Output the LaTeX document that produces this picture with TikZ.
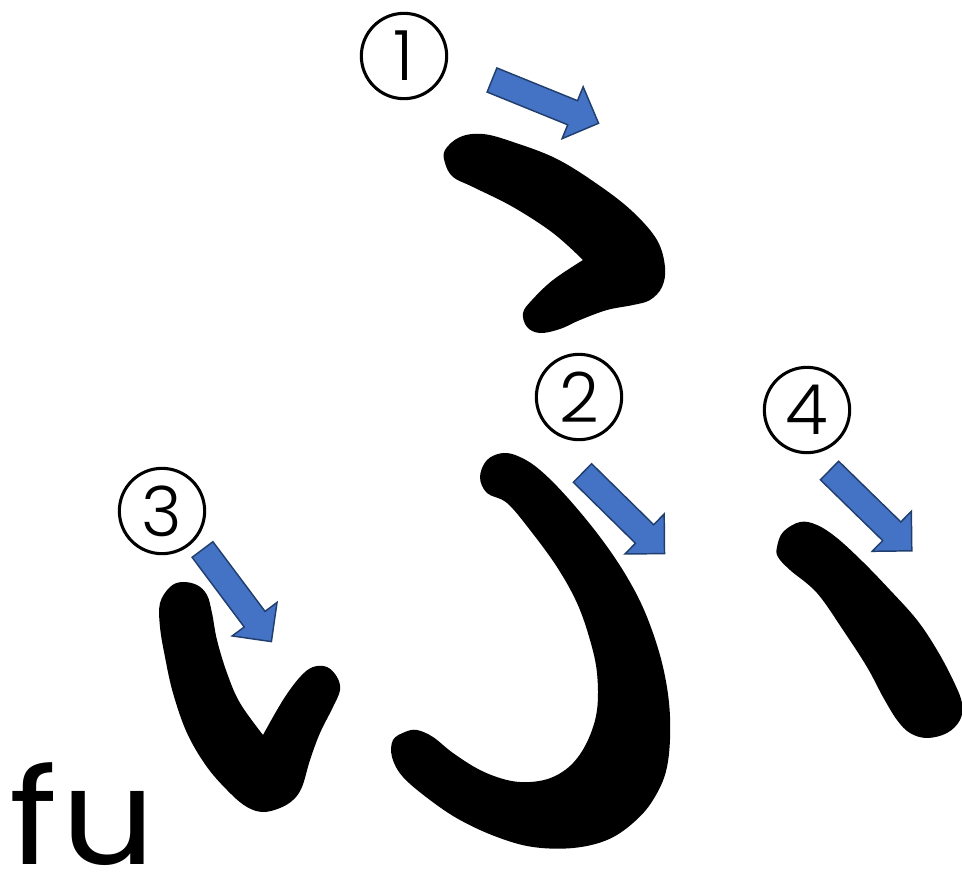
\documentclass[tikz,border=0pt]{standalone}
\usepackage{fontspec}
\setmainfont{Open Sans}
\newfontfamily\lightfont{Poppins Light}
\newfontfamily\romajifont{Poppins}[FakeStretch=1.1]
\begin{document}
\begin{tikzpicture}[x=0.75pt,y=-0.75pt,
  stroke/.style={fill=black},
  arrowbody/.style={fill=arrowfill,draw=arrowline,line width=1.1pt,line join=miter},
  circ/.style={circle,draw=black,line width=2.3pt,minimum size=64pt,inner sep=0pt,font=\lightfont\fontsize{52}{52}\selectfont},
  romaji/.style={anchor=base west,inner sep=0pt,text depth=0pt,font=\romajifont\fontsize{100}{100}\selectfont}]
\definecolor{arrowfill}{HTML}{4472C4}
\definecolor{arrowline}{HTML}{213F6E}
\useasboundingbox (0,0) rectangle (962,875);
\newcommand\blockarrow[3]{\begin{scope}[shift={(#1,#2)},rotate=#3]
  \filldraw[arrowbody] (0,-13)--(87,-13)--(87,-28)--(115,0)--(87,28)--(87,13)--(0,13)--cycle;
  \end{scope}}
% stroke 1
\fill[stroke] plot[smooth,tension=0.6] coordinates {(583,260) (553,233) (513,207) (473,187) (453,177) (445,163) (445,150) (460,137) (483,134) (513,142) (557,159) (600,186) (633,212) (657,240) (665,267) (662,287) (650,300) (633,305) (607,310) (580,320) (560,329) (540,333) (527,327) (523,313) (532,300) (553,280) (583,260)} -- cycle;
% stroke 2
\fill[stroke] plot[smooth cycle,tension=0.6] coordinates {(480,477) (487,460) (503,453) (520,457) (540,470) (567,497) (600,537) (627,577) (647,617) (663,667) (670,717) (667,767) (653,800) (633,823) (607,840) (573,848) (533,847) (497,837) (460,820) (430,800) (403,777) (392,757) (393,740) (405,732) (417,730) (433,737) (453,753) (480,770) (507,780) (530,782) (553,777) (573,763) (588,740) (597,710) (597,673) (590,640) (577,603) (557,567) (530,530) (507,503) (487,493)};
% stroke 3
\fill[stroke] plot[smooth,tension=0.6] coordinates {(263,735) (283,700) (300,677) (313,667) (327,667) (337,677) (340,690) (333,707) (320,733) (310,760) (302,787) (293,800) (280,808) (263,812) (247,807) (230,793) (207,767) (187,733) (173,693) (165,657) (160,627) (160,603) (170,587) (182,582) (197,585) (207,595) (212,613) (217,640) (227,673) (240,703) (263,735)} -- cycle;
% stroke 4
\fill[stroke] plot[smooth cycle,tension=0.6] coordinates {(777,547) (783,532) (800,522) (817,525) (837,538) (863,562) (890,590) (917,620) (937,650) (953,680) (962,703) (960,720) (947,733) (927,738) (910,733) (897,720) (883,697) (867,667) (843,630) (817,593) (790,570) (778,557)};
% arrows
\blockarrow{492}{80}{-22.1}
\blockarrow{582.5}{473}{-44.5}
\blockarrow{202.5}{549.5}{-53.2}
\blockarrow{829.5}{470.5}{-44.3}
% circled numbers
\node[circ] (c1) at (404,56) {1};
\node[circ] (c2) at (579,397) {2};
\node[circ] (c3) at (162,511) {3};
\node[circ] (c4) at (807,410) {4};
\node[romaji] (fu) at (9,864) {f\kern3pt u};
\end{tikzpicture}
\end{document}
